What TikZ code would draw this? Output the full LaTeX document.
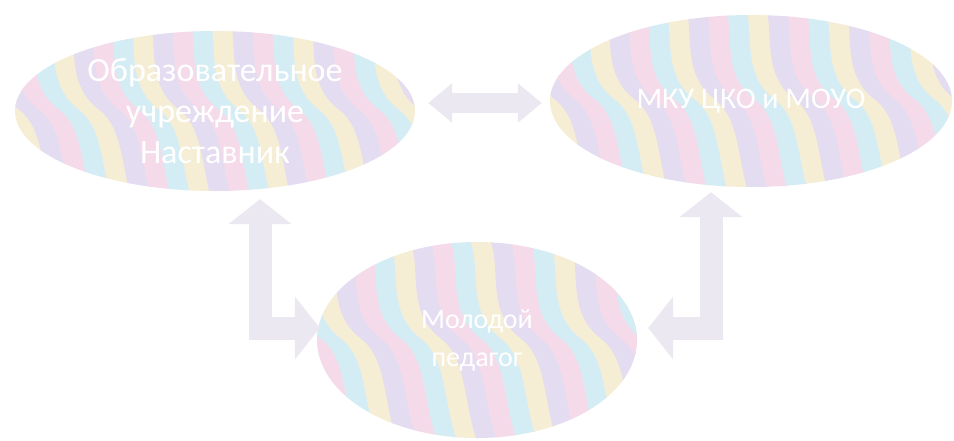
\documentclass[tikz,border=0pt]{standalone}
\usepackage{fontspec}
\setmainfont{Carlito}
\usetikzlibrary{shapes.geometric,arrows.meta,calc}
\definecolor{stpink}{HTML}{F5DAEA}
\definecolor{stcyan}{HTML}{D4EDF4}
\definecolor{styel}{HTML}{F6EED4}
\definecolor{stlav}{HTML}{E4DCF0}
\definecolor{arrowcol}{HTML}{ECE8F2}
\begin{document}
\begin{tikzpicture}[x=1pt,y=-1pt,
  stripes/.style={path picture={
    \coordinate (ppc) at (path picture bounding box.center);
    \foreach \i in {-17,...,17}{
      \pgfmathtruncatemacro\c{mod(\i+100,4)}
      \ifcase\c \def\col{stpink}\or \def\col{stcyan}\or \def\col{styel}\or \def\col{stlav}\fi
      \draw[line width=21pt,draw=\col]
        ($(ppc)+(\i*20-60,-130)$) .. controls ($(ppc)+(\i*20-10,-100)$) and ($(ppc)+(\i*20-50,-40)$) .. ($(ppc)+(\i*20-10,-10)$)
        .. controls ($(ppc)+(\i*20+30,20)$) and ($(ppc)+(\i*20+10,90)$) .. ($(ppc)+(\i*20+50,130)$);
    }}},
  ell/.style={ellipse, stripes, inner sep=0pt, text=white, align=center},
  bigarrow/.style={line width=23pt, draw=arrowcol, line join=miter,
    {Triangle[width=62pt,length=25pt]}-{Triangle[width=62pt,length=25pt]}},
  smallarrow/.style={line width=20pt, draw=arrowcol,
    {Triangle[width=38pt,length=24pt]}-{Triangle[width=38pt,length=24pt]}}
]
\useasboundingbox (0,0) rectangle (954,440);
\fill[white] (0,0) rectangle (954,440);

\node[ell, minimum width=400pt, minimum height=160pt,
      font=\fontsize{34}{41}\selectfont] (A) at (215,111)
  {Образовательное\\учреждение\\Наставник};
\node[ell, minimum width=402pt, minimum height=172pt,
      font=\fontsize{30}{36}\selectfont] (B) at (751,101)
  {МКУ ЦКО и МОУО};
\node[ell, minimum width=320pt, minimum height=196pt,
      font=\fontsize{28}{38}\selectfont] (C) at (477,340)
  {Молодой\\педагог};

\draw[smallarrow] ([shift={(13,-8)}]A.east) -- ([shift={(-8,2)}]B.west);
\draw[bigarrow] ([shift={(45,8)}]A.south) |- ([shift={(3,-12)}]C.west);
\draw[bigarrow] ([shift={(-40,5)}]B.south) |- ([shift={(11,-12)}]C.east);
\end{tikzpicture}
\end{document}
